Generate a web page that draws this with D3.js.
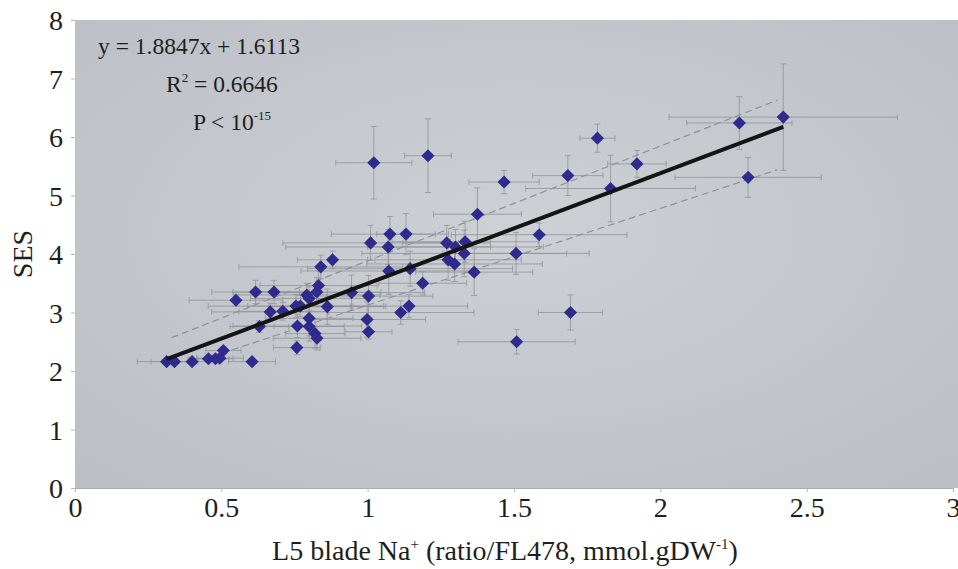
<!DOCTYPE html>
<html>
<head>
<meta charset="utf-8">
<script src="https://cdn.jsdelivr.net/npm/d3@7"></script>
<style>
  html, body { margin: 0; padding: 0; background: #fff; }
  svg { display: block; }
  text { font-family: "Liberation Serif", "Times New Roman", serif; fill: #1e1e1e; }
</style>
</head>
<body>
<svg id="chart" width="958" height="569"></svg>
<script>
// leaf 5 blade Na+ (x) vs SES score (y), each with its error bar
const naX = [0.313, 0.34, 0.40, 0.456, 0.48, 0.495, 0.507, 0.605, 0.55, 0.617,
  0.68, 0.667, 0.71, 0.63, 0.758, 0.76, 0.755, 0.77, 0.792, 0.80,
  0.826, 0.832, 0.84, 0.88, 0.862, 0.80, 0.80, 0.82, 0.827, 0.945,
  1.003, 0.998, 1.003, 1.01, 1.07, 1.076, 1.131, 1.072, 1.145, 1.113,
  1.141, 1.188, 1.021, 1.206, 1.27, 1.30, 1.333, 1.33, 1.275, 1.297,
  1.364, 1.375, 1.466, 1.507, 1.509, 1.586, 1.684, 1.693, 1.785, 1.83,
  1.92, 2.27, 2.30, 2.42]
const sesY = [2.16, 2.16, 2.16, 2.21, 2.21, 2.22, 2.35, 2.16, 3.21, 3.35,
  3.35, 3.01, 3.02, 2.76, 2.40, 2.77, 3.11, 3.11, 3.30, 3.24,
  3.35, 3.46, 3.78, 3.90, 3.10, 2.90, 2.76, 2.64, 2.56, 3.34,
  3.28, 2.88, 2.67, 4.19, 4.12, 4.34, 4.34, 3.71, 3.75, 3.00,
  3.11, 3.50, 5.56, 5.68, 4.19, 4.12, 4.21, 4.01, 3.90, 3.83,
  3.69, 4.68, 5.23, 4.01, 2.50, 4.33, 5.34, 3.00, 5.98, 5.12,
  5.54, 6.24, 5.31, 6.34]
const naErr = [0.10, 0.08, 0.09, 0.07, 0.06, 0.08, 0.06, 0.08, 0.16, 0.15,
  0.14, 0.20, 0.15, 0.10, 0.08, 0.22, 0.30, 0.18, 0.25, 0.20,
  0.22, 0.20, 0.28, 0.12, 0.20, 0.15, 0.12, 0.10, 0.15, 0.25,
  0.22, 0.20, 0.08, 0.30, 0.35, 0.20, 0.10, 0.30, 0.35, 0.25,
  0.20, 0.15, 0.13, 0.08, 0.15, 0.30, 0.25, 0.35, 0.25, 0.30,
  0.20, 0.15, 0.12, 0.25, 0.20, 0.30, 0.12, 0.11, 0.06, 0.29,
  0.10, 0.18, 0.25, 0.39]
const sesErr = [0.04, 0.04, 0.05, 0.05, 0.05, 0.05, 0.06, 0.05, 0.10, 0.20,
  0.20, 0.15, 0.15, 0.10, 0.12, 0.20, 0.20, 0.18, 0.20, 0.20,
  0.25, 0.25, 0.20, 0.15, 0.30, 0.30, 0.25, 0.25, 0.20, 0.30,
  0.35, 0.30, 0.12, 0.30, 0.30, 0.30, 0.35, 0.40, 0.30, 0.20,
  0.20, 0.20, 0.62, 0.63, 0.30, 0.30, 0.35, 0.40, 0.35, 0.30,
  0.40, 0.45, 0.20, 0.36, 0.21, 0.20, 0.34, 0.30, 0.24, 0.57,
  0.23, 0.45, 0.34, 0.91]

// fit y = 1.8847x + 1.6113 over the data range, plus the two dashed bands
const fitSlope = 1.8847
const fitIntercept = 1.6113
const fitRange = [0.313, 2.42]
const upperBand = [[0.33, 2.57], [2.40, 6.63]]
const lowerBand = [[0.50, 2.30], [2.40, 5.44]]

const xTicks = [0, 0.5, 1, 1.5, 2, 2.5, 3]
const yTicks = [0, 1, 2, 3, 4, 5, 6, 7, 8]

const svg = d3.select('#chart')
const margin = {left: 75, top: 20, bottom: 81}
const width = 958, height = 569

const x = d3.scaleLinear().domain([0, 3]).range([margin.left, 953])
const y = d3.scaleLinear().domain([0, 8]).range([height - margin.bottom, margin.top])

// plot area, slightly lighter in the middle like the scan
const grad = svg.append('defs').append('radialGradient')
  .attr('id', 'bg').attr('cx', '50%').attr('cy', '45%').attr('r', '70%')
grad.append('stop').attr('offset', '0%').attr('stop-color', '#cdd0d5')
grad.append('stop').attr('offset', '100%').attr('stop-color', '#bcbfc5')

svg.append('rect')
  .attr('x', margin.left).attr('y', margin.top)
  .attr('width', width - margin.left).attr('height', y(0) - margin.top)
  .attr('fill', 'url(#bg)')

const fontSize = 28

const yAxis = svg.append('g')
  .attr('transform', `translate(${margin.left},0)`)
  .call(d3.axisLeft(y).tickValues(yTicks).tickFormat(d3.format('d')).tickSize(4).tickPadding(8))
yAxis.select('.domain').remove()
yAxis.selectAll('line').attr('stroke', '#b5b7bb')
yAxis.selectAll('text').style('font-size', fontSize + 'px').attr('dy', '0.34em')

const xAxis = svg.append('g')
  .attr('transform', `translate(0,${y(0)})`)
  .call(d3.axisBottom(x).tickValues(xTicks).tickFormat(d => d).tickSize(4).tickPadding(5))
xAxis.select('.domain').attr('stroke', '#a9abaf')
xAxis.selectAll('line').attr('stroke', '#b5b7bb')
xAxis.selectAll('text').style('font-size', fontSize + 'px')

const points = naX.map((v, i) => ({x: v, y: sesY[i], xe: naErr[i], ye: sesErr[i]}))

// error bars
const cap = 3
const bars = svg.append('g')
  .attr('stroke', '#929499')
  .attr('stroke-width', 1)
  .attr('stroke-opacity', 0.8)
  .selectAll('g')
  .data(points)
  .join('g')

bars.append('line')
  .attr('x1', d => x(d.x - d.xe)).attr('x2', d => x(d.x + d.xe))
  .attr('y1', d => y(d.y)).attr('y2', d => y(d.y))
bars.append('line')
  .attr('x1', d => x(d.x)).attr('x2', d => x(d.x))
  .attr('y1', d => y(d.y - d.ye)).attr('y2', d => y(d.y + d.ye))
bars.selectAll('.hcap')
  .data(d => [[d.x - d.xe, d.y], [d.x + d.xe, d.y]])
  .join('line')
  .attr('x1', d => x(d[0])).attr('x2', d => x(d[0]))
  .attr('y1', d => y(d[1]) - cap).attr('y2', d => y(d[1]) + cap)
bars.selectAll('.vcap')
  .data(d => [[d.x, d.y - d.ye], [d.x, d.y + d.ye]])
  .join('line')
  .attr('x1', d => x(d[0]) - cap).attr('x2', d => x(d[0]) + cap)
  .attr('y1', d => y(d[1])).attr('y2', d => y(d[1]))

// dashed bands
const line = d3.line().x(d => x(d[0])).y(d => y(d[1]))
svg.append('g')
  .selectAll('path')
  .data([upperBand, lowerBand])
  .join('path')
  .attr('d', line)
  .attr('fill', 'none')
  .attr('stroke', '#909297')
  .attr('stroke-width', 1.2)
  .attr('stroke-dasharray', '7,4')

// markers
svg.append('g')
  .selectAll('path')
  .data(points)
  .join('path')
  .attr('transform', d => `translate(${x(d.x)},${y(d.y)})`)
  .attr('d', d3.symbol(d3.symbolDiamond2, 110))
  .attr('fill', '#2f2b8c')

// regression line
svg.append('path')
  .datum(fitRange.map(v => [v, fitSlope * v + fitIntercept]))
  .attr('d', line)
  .attr('stroke', '#141414')
  .attr('stroke-width', 4)
  .attr('fill', 'none')

// equation block
const note = svg.append('g').style('font-size', '23.5px')
note.append('text').attr('x', 98).attr('y', 54)
  .text(`y = ${fitSlope}x + ${fitIntercept}`)
const r2 = note.append('text').attr('x', 166).attr('y', 92)
r2.append('tspan').text('R')
r2.append('tspan').attr('dy', -10).style('font-size', '13px').text('2')
r2.append('tspan').attr('dy', 10).text(' = 0.6646')
const pv = note.append('text').attr('x', 193).attr('y', 130)
pv.append('tspan').text('P < 10')
pv.append('tspan').attr('dy', -10).style('font-size', '13px').text('-15')

// axis titles
svg.append('text')
  .attr('transform', `translate(32,${y(4)}) rotate(-90)`)
  .attr('text-anchor', 'middle')
  .style('font-size', fontSize + 'px')
  .text('SES')

const xt = svg.append('text')
  .attr('x', 505).attr('y', 560)
  .attr('text-anchor', 'middle')
  .style('font-size', fontSize + 'px')
xt.append('tspan').text('L5 blade Na')
xt.append('tspan').attr('dy', -11).style('font-size', '15px').text('+')
xt.append('tspan').attr('dy', 11).text(' (ratio/FL478, mmol.gDW')
xt.append('tspan').attr('dy', -11).style('font-size', '15px').text('-1')
xt.append('tspan').attr('dy', 11).text(')')
</script>
</body>
</html>
